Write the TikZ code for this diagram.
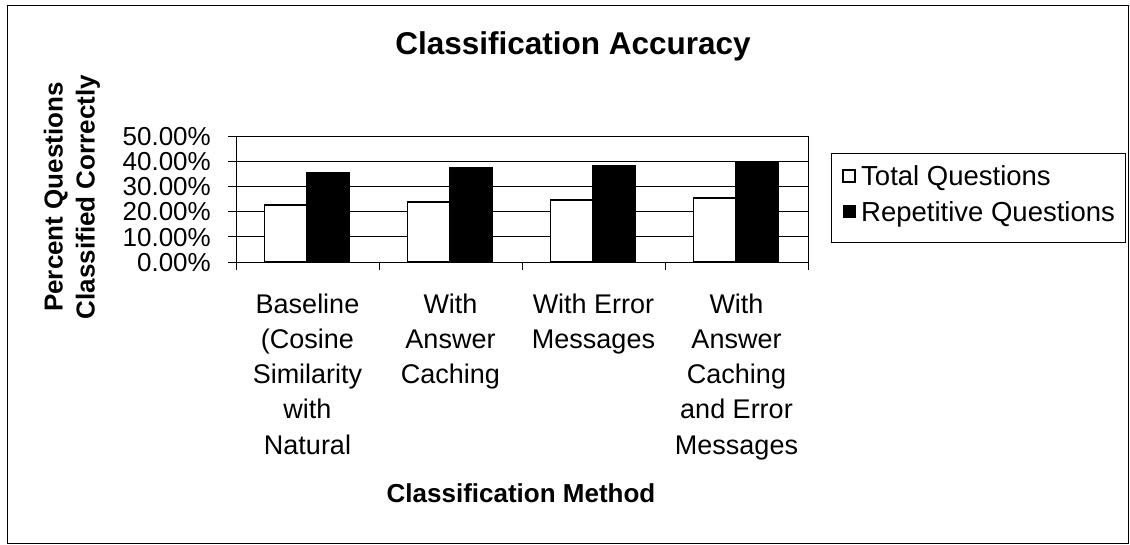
\documentclass[tikz,border=0pt]{standalone}
\usepackage{fontspec}
\setmainfont{Liberation Sans}
\begin{document}
\begin{tikzpicture}[x=1pt, y=-1pt,
    frame/.style={draw=black, line width=1pt},
    bar/.style={draw=black, line width=1.6pt},
    ticklab/.style={font=\fontsize{26}{30}\selectfont, anchor=base east, inner sep=0pt},
    catlab/.style={font=\fontsize{27}{35.2}\selectfont, align=center, anchor=north, inner sep=0pt},
    legtext/.style={font=\fontsize{27.5}{30}\selectfont, anchor=base west, inner sep=0pt},
    axtitle/.style={font=\bfseries\fontsize{26}{32}\selectfont, align=center, inner sep=0pt}
]
\useasboundingbox (0,0) rectangle (1130,544);
% Chart frame
\draw[frame] (7.3,5) rectangle (1128.5,543);

% Title
\node[font=\bfseries\fontsize{31.5}{36}\selectfont, anchor=base] (title) at (573,54) {Classification Accuracy};

% Grid lines and value labels
\foreach \p in {0,10,...,50} {
  \pgfmathsetmacro{\yy}{262-2.52*\p}
  \draw[frame] (228,\yy) -- (808,\yy);
  \node[ticklab] (ylab\p) at (211,\yy+9.3) {\p.00\%};
}
\draw[frame] (236,136) rectangle (808,262);
\foreach \i in {0,...,4}
  \draw[frame] (236+143*\i,262) -- (236+143*\i,270);

% Bars and category labels
\foreach \i/\tot/\rep/\lab in {
    1/22.6/35.4/{Baseline\\(Cosine\\Similarity\\with\\Natural},
    2/23.9/37.2/{With\\Answer\\Caching},
    3/24.6/38.2/{With Error\\Messages},
    4/25.5/39.2/{With\\Answer\\Caching\\and Error\\Messages}} {
  \pgfmathsetmacro{\cx}{236+143*(\i-0.5)}
  \draw[bar, fill=white] (\cx-43,262) rectangle (\cx-1,262-2.52*\tot);
  \draw[bar, fill=black] (\cx-1,262) rectangle (\cx+42,262-2.52*\rep);
  \node[catlab] (cat\i) at (\cx,293.6) {\lab};
}

% Axis titles
\node[axtitle, rotate=90] (ytitle) at (72,197) {Percent Questions\\Classified Correctly};
\node[axtitle, anchor=base] (xtitle) at (521,502.6) {Classification Method};

% Legend
\draw[frame] (831.7,153.3) rectangle (1125.7,242.7);
\draw[frame, line width=1.4pt, fill=white] (843,170) rectangle (855,182);
\draw[frame, fill=black] (843,205.7) rectangle (855,217.7);
\node[legtext] (legtot) at (861,185.8) {Total Questions};
\node[legtext] (legrep) at (861,221.5) {Repetitive Questions};
\end{tikzpicture}
\end{document}
